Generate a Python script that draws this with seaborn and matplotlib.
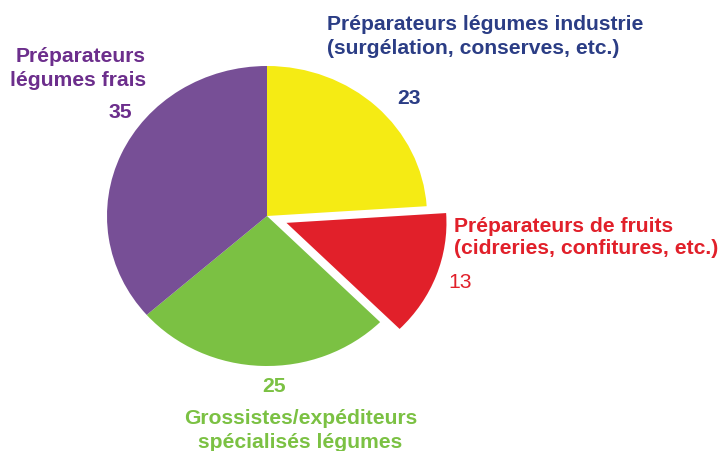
import matplotlib
matplotlib.use("Agg")
import matplotlib.pyplot as plt
import seaborn as sns

# data
categories = [
    "Préparateurs légumes industrie",
    "Préparateurs de fruits",
    "Grossistes/expéditeurs",
    "Préparateurs légumes frais",
]
values = [23, 13, 25, 35]
explode = [0, 0.13, 0, 0]
wedge_colors = ["#F5EB14", "#E1202A", "#7BC143", "#774F96"]

sns.set_theme(style="white")
plt.rcParams["font.family"] = ["Liberation Sans", "DejaVu Sans"]

W, H = 721, 451
fig = plt.figure(figsize=(W / 100, H / 100), dpi=100)
ax = fig.add_axes([0, 0, 1, 1])

ax.pie(values, colors=wedge_colors, explode=explode, startangle=90,
       counterclock=False, radius=1, center=(0, 0),
       wedgeprops=dict(linewidth=0))

# pie is slightly wider than tall in the reference
cx, cy, rx, ry = 267, 216, 160, 150
ax.set_aspect("auto")
ax.set_xlim(-cx / rx, (W - cx) / rx)
ax.set_ylim((cy - H) / ry, cy / ry)
ax.axis("off")


def px(x, y):
    return x / W, 1 - y / H


fs = 15.2
blue, red, green, purple = "#2B3D85", "#E1202A", "#7BC143", "#6C2E8C"

# industry
fig.text(*px(327, 24), "Préparateurs légumes industrie", color=blue, fontsize=fs,
         fontweight="bold", ha="left", va="center")
fig.text(*px(327, 49), "(surgélation, conserves, etc.)", color=blue, fontsize=fs,
         fontweight="bold", ha="left", va="center")
fig.text(*px(409, 98), str(values[0]), color=blue, fontsize=fs,
         fontweight="bold", ha="center", va="center")

# fruits
fig.text(*px(454, 226), "Préparateurs de fruits", color=red, fontsize=fs,
         fontweight="bold", ha="left", va="center")
fig.text(*px(454, 249), "(cidreries, confitures, etc.)", color=red, fontsize=fs,
         fontweight="bold", ha="left", va="center")
fig.text(*px(448, 283), str(values[1]), color=red, fontsize=fs,
         ha="left", va="center")

# wholesalers
fig.text(*px(274, 387), str(values[2]), color=green, fontsize=fs,
         fontweight="bold", ha="center", va="center")
fig.text(*px(301, 418), "Grossistes/expéditeurs", color=green, fontsize=fs,
         fontweight="bold", ha="center", va="center")
fig.text(*px(300, 442), "spécialisés légumes", color=green, fontsize=fs,
         fontweight="bold", ha="center", va="center")

# fresh
fig.text(*px(146, 57), "Préparateurs", color=purple, fontsize=fs,
         fontweight="bold", ha="right", va="center")
fig.text(*px(146, 80), "légumes frais", color=purple, fontsize=fs,
         fontweight="bold", ha="right", va="center")
fig.text(*px(120, 112), str(values[3]), color=purple, fontsize=fs,
         fontweight="bold", ha="center", va="center")

fig.savefig("out.png", dpi=100, facecolor="white")
